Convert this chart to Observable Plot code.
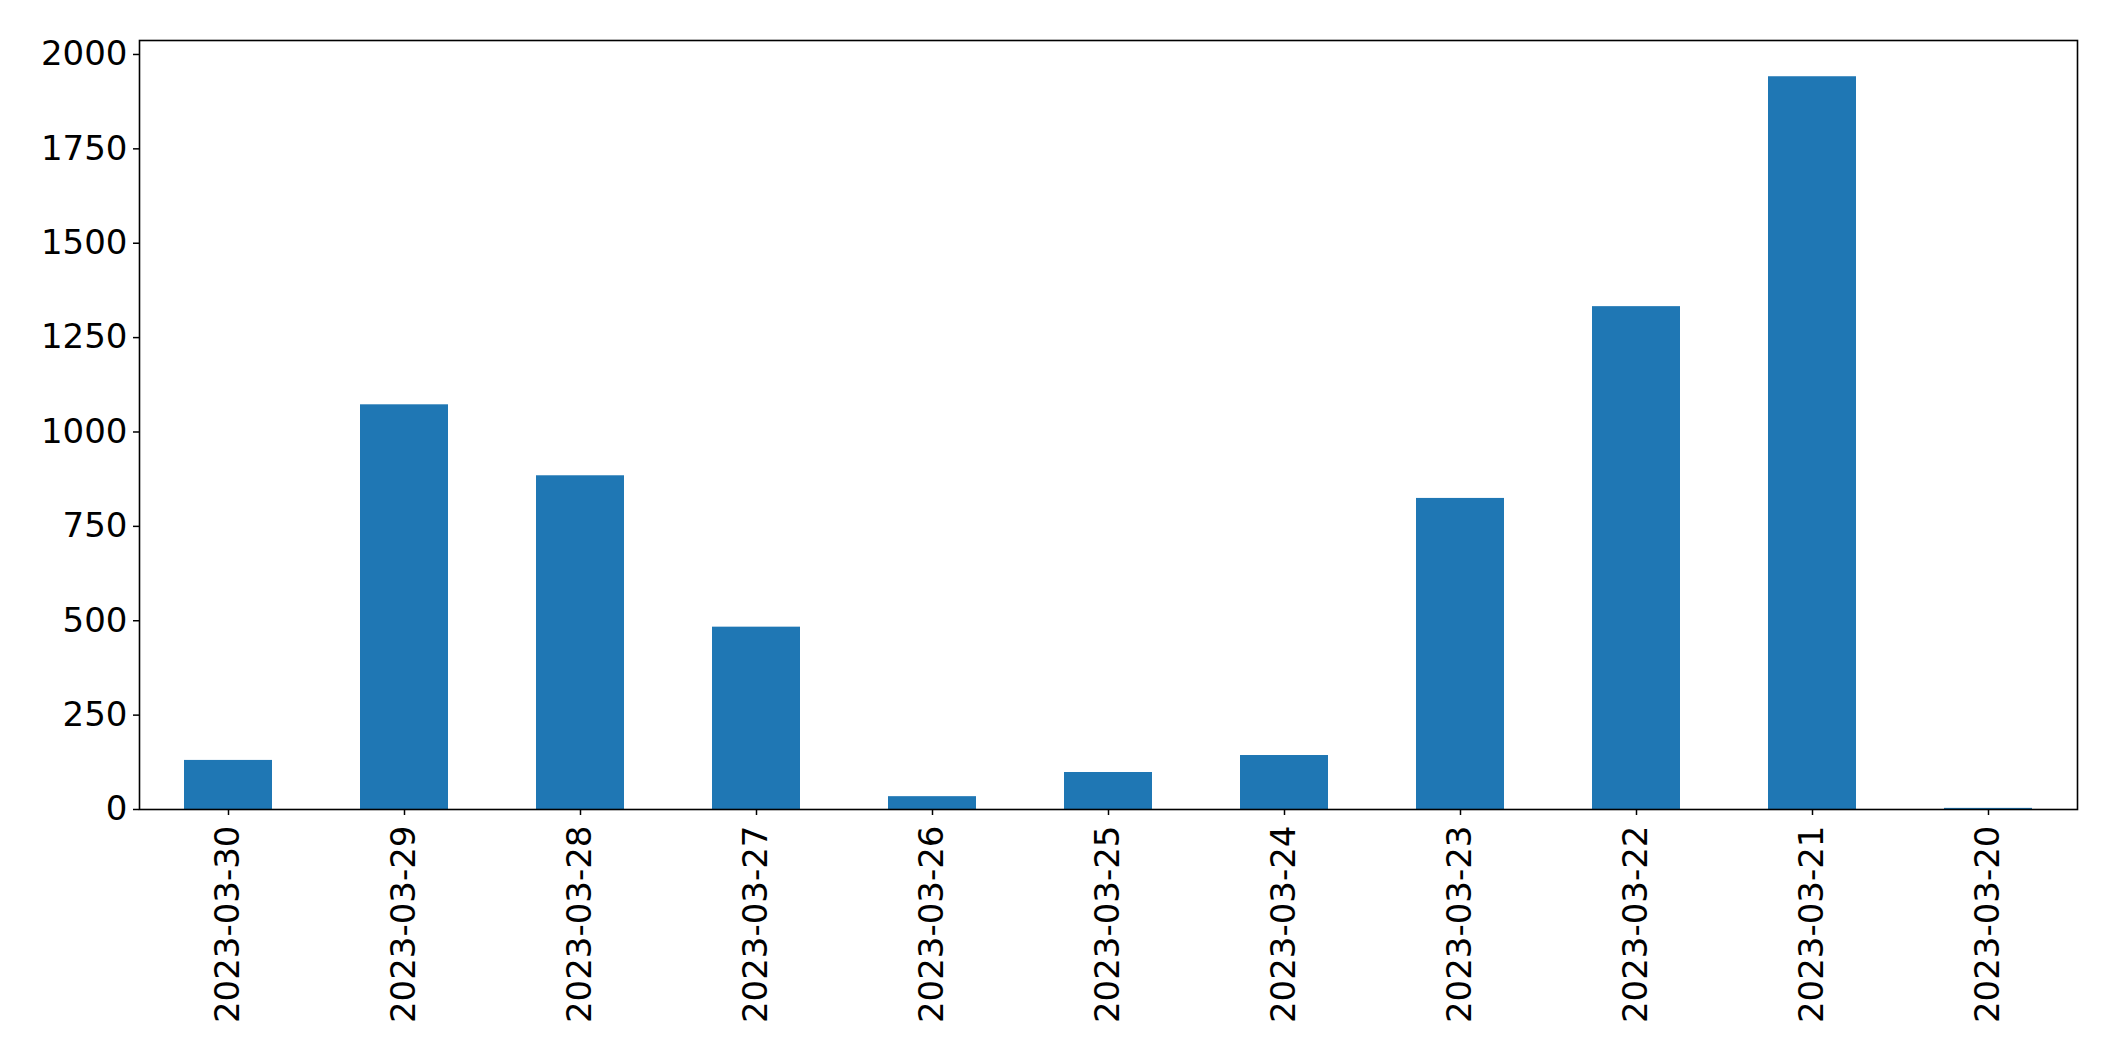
<!DOCTYPE html>
<html><head><meta charset="utf-8">
<script src="https://cdn.jsdelivr.net/npm/d3@7"></script>
<script src="https://cdn.jsdelivr.net/npm/@observablehq/plot@0.6"></script>
<style>html,body{margin:0;padding:0;background:#fff}</style>
</head><body><div id="chart"></div>
<script>
const dates = ["2023-03-30","2023-03-29","2023-03-28","2023-03-27","2023-03-26","2023-03-25","2023-03-24","2023-03-23","2023-03-22","2023-03-21","2023-03-20"];
const counts = [130, 1072, 884, 483, 34, 98, 143, 824, 1332, 1941, 3];
const yTicks = [0, 250, 500, 750, 1000, 1250, 1500, 1750, 2000];

const data = dates.map((d, i) => ({date: d, count: counts[i]}));

const chart = Plot.plot({
  width: 2115,
  height: 1061,
  marginLeft: 139,
  marginRight: 38,
  marginTop: 40,
  marginBottom: 252,
  style: {fontFamily: "DejaVu Sans", fontSize: "34px", background: "#fff", color: "#000", overflow: "visible"},
  x: {domain: dates, paddingInner: 0.5, paddingOuter: 0.25, label: null},
  y: {domain: [0, 2037], label: null},
  marks: [
    Plot.barY(data, {x: "date", y: "count", fill: "#1f77b4"}),
    Plot.frame({stroke: "#000", strokeWidth: 1.6}),
    Plot.axisX({tickRotate: -90, tickSize: 6, tickPadding: 10, strokeWidth: 1.5, fontSize: 34, label: null}),
    Plot.axisY({ticks: yTicks, tickSize: 6, tickPadding: 6, strokeWidth: 1.5, fontSize: 34, tickFormat: d3.format("d"), label: null})
  ]
});
document.getElementById("chart").appendChild(chart);
</script>
</body></html>
